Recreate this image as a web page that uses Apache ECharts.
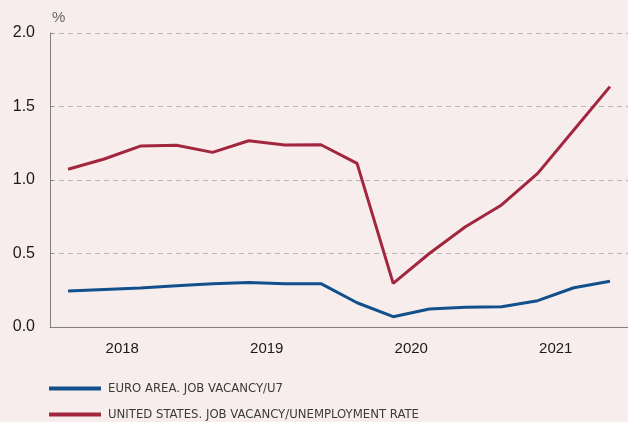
<!DOCTYPE html>
<html>
<head>
<meta charset="utf-8">
<script src="https://cdn.jsdelivr.net/npm/echarts@6/dist/echarts.min.js"></script>
<style>
	html, body { margin: 0; padding: 0; background: #f7eded; }
	#chart { width: 628px; height: 422px; }
</style>
</head>
<body>
<div id="chart"></div>
<script>
	// quarterly data 2018Q1 - 2021Q4
	const quarters = ['2018Q1', '2018Q2', '2018Q3', '2018Q4', '2019Q1', '2019Q2', '2019Q3', '2019Q4',
		'2020Q1', '2020Q2', '2020Q3', '2020Q4', '2021Q1', '2021Q2', '2021Q3', '2021Q4']
	const years = ['2018', '2019', '2020', '2021']
	const yTicks = [0, 0.5, 1.0, 1.5, 2.0]
	const euroArea = [0.245, 0.255, 0.265, 0.281, 0.295, 0.302, 0.295, 0.295,
		0.165, 0.070, 0.122, 0.134, 0.138, 0.179, 0.267, 0.311]
	const unitedStates = [1.073, 1.143, 1.231, 1.236, 1.188, 1.267, 1.238, 1.240,
		1.113, 0.297, 0.500, 0.682, 0.830, 1.045, 1.340, 1.635]
	const seriesNames = ['EURO AREA. JOB VACANCY/U7', 'UNITED STATES. JOB VACANCY/UNEMPLOYMENT RATE']

	const legendText = {
		fontFamily: "'DejaVu Sans Condensed', 'Liberation Sans Narrow', sans-serif",
		fontSize: 13,
		color: '#3a3a3a',
		padding: [0, 0, 0, 2]
	}
	// one legend per row
	const makeLegend = (name, top) => ({
		left: 44,
		top: top,
		icon: 'rect',
		itemWidth: 52,
		itemHeight: 4,
		data: [name],
		textStyle: legendText
	})

	const myChart = echarts.init(document.getElementById('chart'))
	const option = {
		backgroundColor: '#f7eded',
		animation: false,
		grid: {
			left: 50,
			right: 0,
			top: 33,
			bottom: 95
		},
		legend: [makeLegend(seriesNames[0], 377), makeLegend(seriesNames[1], 403)],
		xAxis: [{
			type: 'category',
			data: quarters,
			show: false
		}, {
			type: 'category',
			data: years,
			position: 'bottom',
			axisLine: { lineStyle: { color: '#808080', width: 1 } },
			axisTick: { inside: true, length: 4, lineStyle: { color: '#808080' } },
			axisLabel: {
				fontFamily: 'Liberation Sans',
				fontSize: 15,
				color: '#1a1a1a',
				margin: 14
			},
			splitLine: { show: false }
		}],
		yAxis: {
			type: 'value',
			min: yTicks[0],
			max: yTicks[yTicks.length - 1],
			interval: 0.5,
			name: '%',
			nameGap: 8,
			nameTextStyle: {
				fontFamily: 'Liberation Sans',
				fontSize: 15,
				color: '#666',
				align: 'left',
				padding: [0, 0, 0, 2]
			},
			axisLine: { show: true, lineStyle: { color: '#808080', width: 1 } },
			axisTick: { show: true, inside: true, length: 3, lineStyle: { color: '#808080' } },
			axisLabel: {
				fontFamily: 'Liberation Sans',
				fontSize: 16,
				color: '#1a1a1a',
				margin: 15,
				formatter: v => v.toFixed(1)
			},
			splitLine: {
				lineStyle: { color: '#b8b4b4', type: [5, 4], width: 1 }
			}
		},
		series: [{
			name: seriesNames[0],
			type: 'line',
			xAxisIndex: 0,
			data: euroArea,
			showSymbol: false,
			lineStyle: { color: '#12508c', width: 3 },
			itemStyle: { color: '#12508c' }
		}, {
			name: seriesNames[1],
			type: 'line',
			xAxisIndex: 0,
			data: unitedStates,
			showSymbol: false,
			lineStyle: { color: '#a3263f', width: 3 },
			itemStyle: { color: '#a3263f' }
		}]
	}
	myChart.setOption(option)
</script>
</body>
</html>
